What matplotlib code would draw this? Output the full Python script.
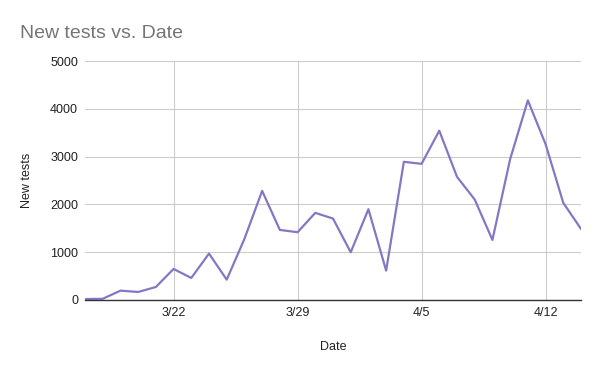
import numpy as np
import pandas as pd
import matplotlib
matplotlib.use("Agg")
import matplotlib.pyplot as plt
import matplotlib.dates as mdates

plt.rcParams['font.family'] = ['Liberation Sans', 'DejaVu Sans']

dates = pd.date_range("2020-03-17", "2020-04-14", freq="D")
new_tests = [20, 25, 196, 168, 272, 650, 461, 971, 426, 1278,
             2283, 1466, 1418, 1823, 1704, 999, 1899, 615, 2891, 2849,
             3541, 2577, 2102, 1257, 2947, 4176, 3261, 2032, 1487]
tick_dates = pd.to_datetime(["2020-03-22", "2020-03-29", "2020-04-05", "2020-04-12"])
tick_labels = ["3/22", "3/29", "4/5", "4/12"]
y_ticks = [0, 1000, 2000, 3000, 4000, 5000]

fig = plt.figure(figsize=(6, 3.71), dpi=100)
ax = fig.add_axes([85/600, 1 - 300/371, (581 - 85)/600, (300 - 61)/371])

ax.plot(dates, new_tests, color='#8677c4', linewidth=1.6)

ax.set_xlim(dates[0], dates[-1])
ax.set_ylim(0, 5000)
ax.set_xticks(tick_dates)
ax.set_xticklabels(tick_labels)
ax.set_yticks(y_ticks)
ax.set_yticklabels([str(v) for v in y_ticks])
ax.tick_params(length=0, labelsize=9, colors='#222222', pad=5)
ax.grid(True, color='#cccccc', linewidth=0.8)
ax.set_axisbelow(True)
for s in ['top', 'right', 'left']:
    ax.spines[s].set_visible(False)
ax.spines['bottom'].set_color('#333333')
ax.spines['bottom'].set_linewidth(1)

ax.set_xlabel('Date', fontsize=9, color='#222222', labelpad=16)
ax.set_ylabel('New tests', fontsize=9, color='#222222', labelpad=12)

fig.text(20/600, 1 - 33/371, 'New tests vs. Date', fontsize=14, color='#757575', va='center', ha='left')

fig.savefig('out.png', dpi=100)
